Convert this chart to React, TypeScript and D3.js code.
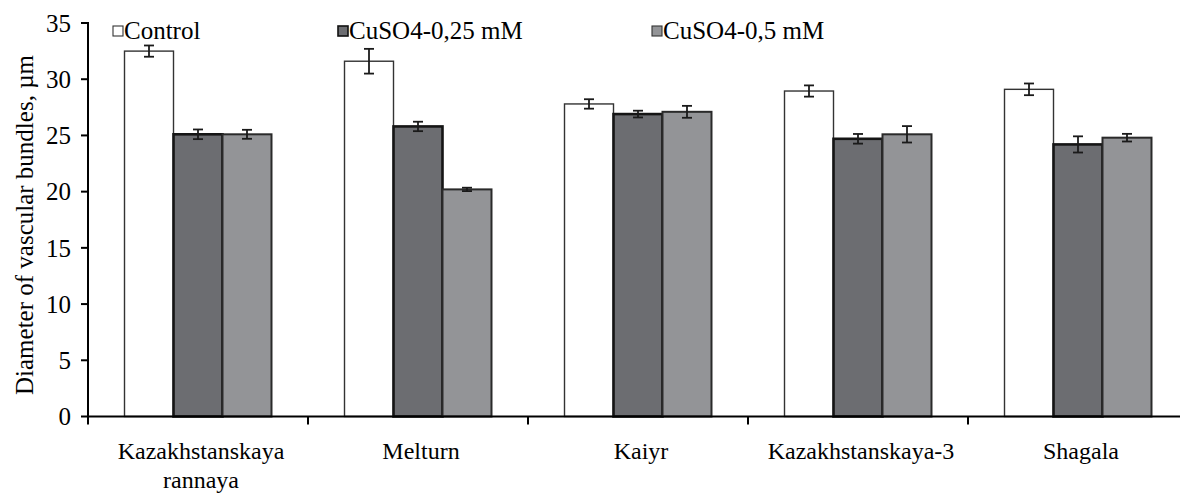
import React from "react";
import * as d3 from "d3";

const categories = ["Kazakhstanskaya rannaya", "Melturn", "Kaiyr", "Kazakhstanskaya-3", "Shagala"];
const categoryLabelLines = [["Kazakhstanskaya", "rannaya"], ["Melturn"], ["Kaiyr"], ["Kazakhstanskaya-3"], ["Shagala"]];
const seriesNames = ["Control", "CuSO4-0,25 mM", "CuSO4-0,5 mM"];
const controlValues = [32.5, 31.6, 27.8, 28.95, 29.1];
const controlErrors = [0.5, 1.1, 0.42, 0.5, 0.52];
const cu025Values = [25.1, 25.8, 26.9, 24.7, 24.2];
const cu025Errors = [0.43, 0.42, 0.3, 0.43, 0.72];
const cu05Values = [25.1, 20.2, 27.1, 25.1, 24.8];
const cu05Errors = [0.4, 0.15, 0.53, 0.73, 0.34];
const yTicks = [0, 5, 10, 15, 20, 25, 30, 35];
const yTitle = "Diameter of vascular bundles, µm";

const seriesValues = [controlValues, cu025Values, cu05Values];
const seriesErrors = [controlErrors, cu025Errors, cu05Errors];
const fills = ["#ffffff", "#6c6d71", "#939497"];
const strokes = ["#333333", "#151515", "#2a2a2a"];
const strokeWidths = [1.4, 2.6, 2];

const FONT = "Liberation Serif";
const textStyle = { fontFamily: FONT, fontWeight: 400 as const };

export default function App() {
  const W = 1180, H = 496;
  const y = d3.scaleLinear().domain([0, 35]).range([416.5, 23]);
  const x0 = d3.scaleBand<string>().domain(categories).range([88, 1188]).padding(0);
  const x1 = d3.scaleBand<string>().domain(seriesNames).range([0, x0.bandwidth()]).paddingInner(0).paddingOuter(0.745);
  const axisY = y(0);

  const legendX = [113, 338, 652];

  return (
    <svg width={W} height={H} style={{ position: "absolute", left: 0, top: 0, background: "#fff" }}>
      {/* bars */}
      {categories.map((c, ci) => (
        <g key={c}>
          {seriesNames.map((s, si) => {
            const v = seriesValues[si][ci];
            const e = seriesErrors[si][ci];
            const bx = (x0(c) as number) + (x1(s) as number);
            const bw = x1.bandwidth();
            const cx = bx + bw / 2;
            return (
              <g key={s}>
                <rect x={bx} y={y(v)} width={bw} height={axisY - y(v)} fill={fills[si]} stroke={strokes[si]} strokeWidth={strokeWidths[si]} />
                <line x1={cx} x2={cx} y1={y(v + e)} y2={y(v - e)} stroke="#1a1a1a" strokeWidth={1.8} />
                <line x1={cx - 5} x2={cx + 5} y1={y(v + e)} y2={y(v + e)} stroke="#1a1a1a" strokeWidth={1.8} />
                <line x1={cx - 5} x2={cx + 5} y1={y(v - e)} y2={y(v - e)} stroke="#1a1a1a" strokeWidth={1.8} />
              </g>
            );
          })}
        </g>
      ))}

      {/* y axis */}
      <line x1={88} x2={88} y1={y(35) - 1} y2={axisY + 8} stroke="#000" strokeWidth={2} />
      {yTicks.map((t) => (
        <g key={t}>
          <line x1={81} x2={88} y1={y(t)} y2={y(t)} stroke="#000" strokeWidth={2} />
          <text x={71} y={y(t)} dy="0.35em" textAnchor="end" fontSize={25} fill="#000" style={textStyle}>{t}</text>
        </g>
      ))}
      <text transform={`translate(33, ${225}) rotate(-90)`} textAnchor="middle" fontSize={25} fill="#000" style={textStyle}>{yTitle}</text>

      {/* x axis */}
      <line x1={88} x2={1188} y1={axisY} y2={axisY} stroke="#000" strokeWidth={2} />
      {categories.map((c, ci) => (
        <g key={c}>
          <line x1={(x0(c) as number) + x0.bandwidth()} x2={(x0(c) as number) + x0.bandwidth()} y1={axisY} y2={axisY + 8} stroke="#000" strokeWidth={2} />
          {categoryLabelLines[ci].map((ln, li) => (
            <text key={li} x={(x0(c) as number) + x0.bandwidth() / 2 + 3} y={459 + li * 29} textAnchor="middle" fontSize={24} fill="#000" style={textStyle}>{ln}</text>
          ))}
        </g>
      ))}

      {/* legend */}
      {seriesNames.map((s, si) => (
        <g key={s}>
          <rect x={legendX[si]} y={26} width={10} height={10} fill={fills[si]} stroke={si === 1 ? "#111" : "#333"} strokeWidth={si === 1 ? 1.6 : 1.1} />
          <text x={legendX[si] + 11} y={39} fontSize={25} fill="#000" style={textStyle}>{s}</text>
        </g>
      ))}
    </svg>
  );
}
